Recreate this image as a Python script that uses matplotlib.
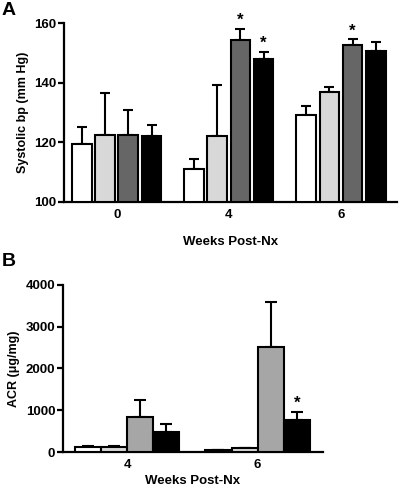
import numpy as np
import matplotlib
matplotlib.use("Agg")
import matplotlib.pyplot as plt

plt.rcParams['font.family'] = ['Liberation Sans', 'DejaVu Sans']
plt.rcParams['font.weight'] = 'bold'
plt.rcParams['axes.labelweight'] = 'bold'

# panel A: systolic bp (mm Hg), weeks 0/4/6, four groups
weeks_a = ["0", "4", "6"]
bp_mean = np.array([[119.5, 111.0, 129.3],
                    [122.5, 122.2, 137.0],
                    [122.6, 154.2, 152.7],
                    [122.0, 148.0, 150.5]])
bp_err = np.array([[5.5, 3.4, 3.0],
                   [14.0, 17.0, 1.6],
                   [8.2, 3.8, 1.9],
                   [3.8, 2.3, 3.0]])
bp_star = [(2, 1), (3, 1), (2, 2)]
colors_a = ["white", "#d8d8d8", "#666666", "black"]

# panel B: ACR (ug/mg), weeks 4/6
weeks_b = ["4", "6"]
acr_mean = np.array([[128, 56],
                     [128, 88],
                     [840, 2512],
                     [472, 760]])
acr_err = np.array([[16, 0],
                    [16, 16],
                    [400, 1090],
                    [210, 192]])
acr_star = [(3, 1)]
colors_b = ["white", "#d8d8d8", "#a6a6a6", "black"]

fig = plt.figure(figsize=(4.0, 4.91), dpi=100)

def style(ax):
    for s in ["top", "right"]:
        ax.spines[s].set_visible(False)
    for s in ["left", "bottom"]:
        ax.spines[s].set_linewidth(1.6)
    ax.tick_params(axis="y", direction="out", width=1.6, length=4, labelsize=9.5, pad=1.5)
    ax.tick_params(axis="x", length=0, labelsize=9.5, pad=5)

# ---- A
axA = fig.add_axes([0.16, 0.5886, 0.8325, 0.3644])
x = np.arange(3)
step, w = 0.207, 0.175
for i in range(4):
    xi = x + (i - 1.5) * step
    axA.bar(xi, bp_mean[i] - 100, w, bottom=100, color=colors_a[i],
            edgecolor="black", linewidth=1.5, zorder=3)
    axA.errorbar(xi, bp_mean[i], yerr=[np.zeros(3), bp_err[i]], fmt="none",
                 ecolor="black", elinewidth=1.5, capsize=3.5, capthick=1.5, zorder=2)
for i, g in bp_star:
    axA.text(g + (i - 1.5) * step, bp_mean[i, g] + bp_err[i, g] + 0.3, "*",
             ha="center", va="bottom", fontsize=12)
axA.set_ylim(100, 160)
axA.set_yticks([100, 120, 140, 160])
axA.set_xlim(-0.47, 2.5)
axA.set_xticks(x)
axA.set_xticklabels(weeks_a)
axA.set_ylabel("Systolic bp (mm Hg)", fontsize=9, labelpad=4)
axA.set_xlabel("Weeks Post-Nx", fontsize=9.5, labelpad=11)
style(axA)
fig.text(0.005, 0.995, "A", fontsize=14, fontweight="bold", va="top")

# ---- B
axB = fig.add_axes([0.1575, 0.0794, 0.65, 0.3402])
xb = np.arange(2)
wb = 0.2
for i in range(4):
    xi = xb + (i - 1.5) * wb
    axB.bar(xi, acr_mean[i], wb, color=colors_b[i],
            edgecolor="black", linewidth=1.5, zorder=3)
    axB.errorbar(xi, acr_mean[i], yerr=[np.zeros(2), acr_err[i]], fmt="none",
                 ecolor="black", elinewidth=1.5, capsize=4.5, capthick=1.5, zorder=2)
for i, g in acr_star:
    axB.text(g + (i - 1.5) * wb, acr_mean[i, g] + acr_err[i, g] + 40, "*",
             ha="center", va="bottom", fontsize=12)
axB.set_ylim(0, 4000)
axB.set_yticks([0, 1000, 2000, 3000, 4000])
axB.set_xlim(-0.49, 1.5)
axB.set_xticks(xb)
axB.set_xticklabels(weeks_b)
axB.set_ylabel("ACR (\u03bcg/mg)", fontsize=9, labelpad=4)
axB.set_xlabel("Weeks Post-Nx", fontsize=9.5, labelpad=3)
style(axB)
fig.text(0.005, 0.485, "B", fontsize=14, fontweight="bold", va="top")

fig.savefig("out.png", dpi=100)
